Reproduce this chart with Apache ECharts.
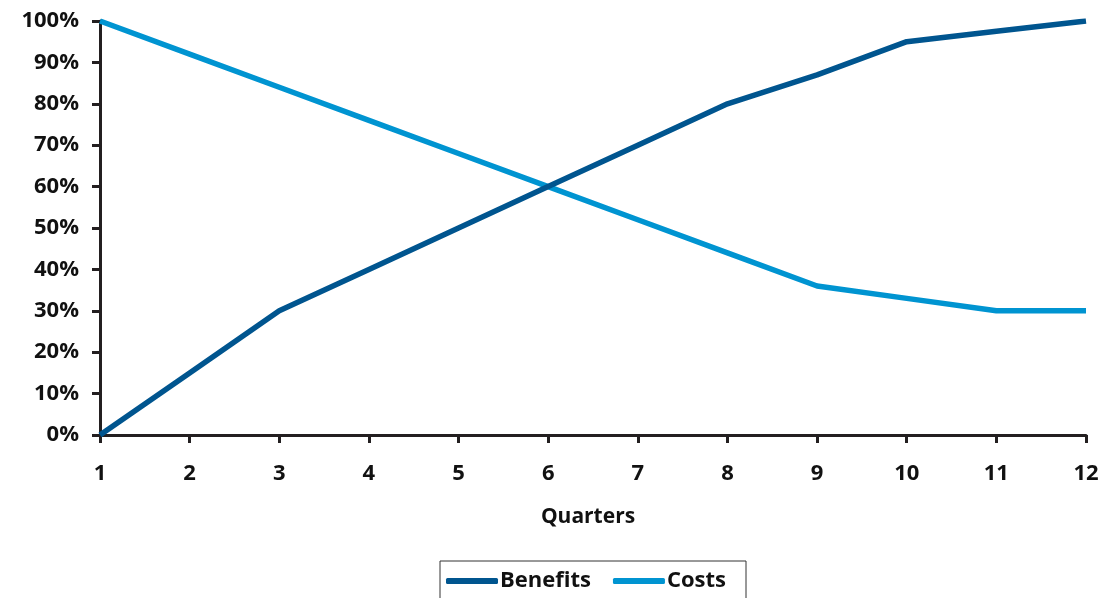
<!DOCTYPE html>
<html>
<head>
<meta charset="utf-8">
<script src="https://cdn.jsdelivr.net/npm/echarts@6/dist/echarts.min.js"></script>
<style>
  html, body { margin: 0; padding: 0; background: #fff; }
  #chart { width: 1108px; height: 598px; }
</style>
</head>
<body>
<div id="chart"></div>
<script>
// Quarter numbers along the x axis
const quarters = ['1', '2', '3', '4', '5', '6', '7', '8', '9', '10', '11', '12'];
// Share of total (percent) per quarter
const benefits = [0, 15, 30, 40, 50, 60, 70, 80, 87, 95, 97.5, 100];
const costs = [100, 92, 84, 76, 68, 60, 52, 44, 36, 33, 30, 30];

const FONT = '"Open Sans", "Noto Sans", sans-serif';
const INK = '#231f20';

const chart = echarts.init(document.getElementById('chart'), null, { renderer: 'canvas' });
chart.setOption({
  animation: false,
  backgroundColor: '#ffffff',
  grid: { left: 100, right: 22, top: 21, bottom: 163, containLabel: false },
  legend: {
    left: 440,
    top: 561,
    padding: [9, 20, 10, 6],
    borderColor: '#333',
    borderWidth: 1,
    itemGap: 22,
    itemWidth: 52,
    itemHeight: 6,
    icon: 'roundRect',
    textStyle: { fontFamily: FONT, fontWeight: 'bold', fontSize: 22, color: '#111', padding: [0, 0, 0, -3] },
    data: ['Benefits', 'Costs']
  },
  xAxis: {
    type: 'category',
    data: quarters,
    boundaryGap: false,
    name: 'Quarters',
    nameLocation: 'middle',
    nameGap: 72,
    nameTextStyle: { fontFamily: FONT, fontWeight: 'bold', fontSize: 21, color: '#111', padding: [0, 10, 0, 0] },
    axisLine: { lineStyle: { color: INK, width: 3 } },
    axisTick: { show: true, alignWithLabel: true, length: 8, lineStyle: { color: INK, width: 3 } },
    axisLabel: { margin: 28, fontFamily: FONT, fontWeight: 'bold', fontSize: 22, color: '#111' },
    splitLine: { show: false }
  },
  yAxis: {
    type: 'value',
    min: 0,
    max: 100,
    interval: 10,
    axisLine: { show: true, lineStyle: { color: INK, width: 3 } },
    axisTick: { show: true, length: 8, lineStyle: { color: INK, width: 3 } },
    axisLabel: { margin: 21, fontFamily: FONT, fontWeight: 'bold', fontSize: 22, color: '#111', formatter: '{value}%' },
    splitLine: { show: false }
  },
  series: [
    {
      name: 'Benefits',
      type: 'line',
      data: benefits,
      showSymbol: false,
      symbol: 'none',
      color: '#00558f',
      lineStyle: { width: 5.5, color: '#00558f', join: 'round' },
      z: 3
    },
    {
      name: 'Costs',
      type: 'line',
      data: costs,
      showSymbol: false,
      symbol: 'none',
      color: '#0094d1',
      lineStyle: { width: 5.5, color: '#0094d1', join: 'round' },
      z: 2
    }
  ]
});
</script>
</body>
</html>
